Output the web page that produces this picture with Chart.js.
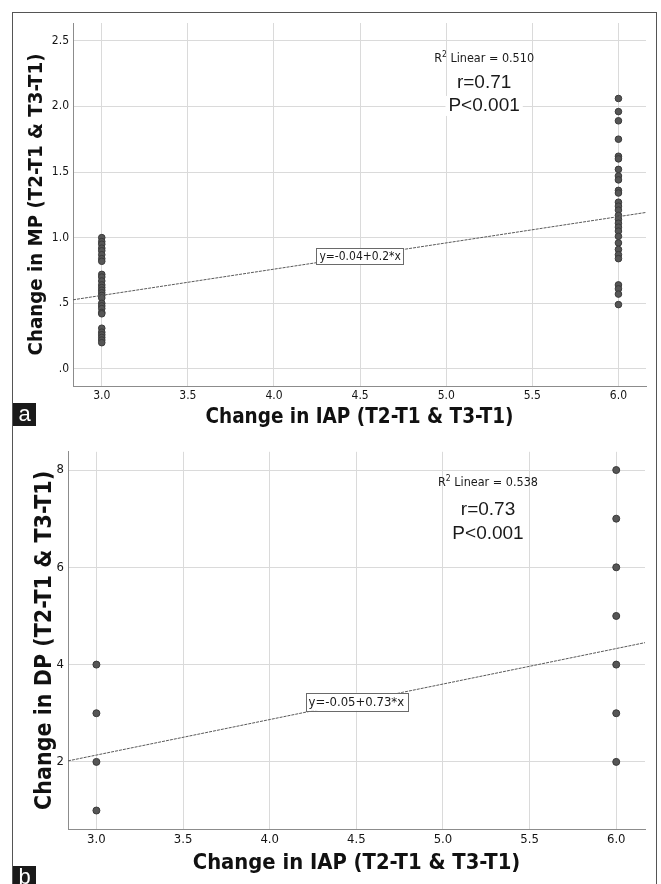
<!DOCTYPE html>
<html><head><meta charset="utf-8">
<script src="https://cdn.jsdelivr.net/npm/chart.js@4.4.1/dist/chart.umd.min.js"></script>
<style>
html,body{margin:0;padding:0;background:#fff;width:661px;height:884px;overflow:hidden;}
#frame{position:absolute;left:12px;top:12px;width:645px;height:900px;border:1.5px solid #555;border-bottom:none;box-sizing:border-box;}
.wrap{position:absolute;left:0;width:661px;}
#wa{top:0;height:440px;} #wb{top:440px;height:444px;}
canvas{display:block;}
.tag{position:absolute;left:13px;width:23px;height:23px;background:#1a1a1a;color:#fff;font:22px 'Liberation Sans',Arial,sans-serif;text-align:center;line-height:22px;}
</style></head><body>
<div id="frame"></div>
<div class="wrap" id="wa"><canvas id="ca" width="661" height="440"></canvas></div>
<div class="wrap" id="wb"><canvas id="cb" width="661" height="444"></canvas></div>
<div class="tag" style="top:403px">a</div>
<div class="tag" style="top:866px">b</div>
<script>
// ---- data ----
const xTicks = [3.0, 3.5, 4.0, 4.5, 5.0, 5.5, 6.0];
const xTickLabels = ['3.0', '3.5', '4.0', '4.5', '5.0', '5.5', '6.0'];

// Panel a: change in MP
const mpAtIap3 = [1.00, 0.97, 0.95, 0.92, 0.90, 0.87, 0.84, 0.82, 0.72, 0.70, 0.67, 0.64, 0.62, 0.60, 0.58, 0.56, 0.54, 0.50, 0.48, 0.46, 0.43, 0.42, 0.31, 0.28, 0.26, 0.24, 0.22, 0.20];
const mpAtIap6 = [2.06, 1.96, 1.89, 1.75, 1.62, 1.60, 1.52, 1.47, 1.44, 1.36, 1.34, 1.27, 1.24, 1.21, 1.17, 1.14, 1.11, 1.08, 1.05, 1.01, 0.96, 0.91, 0.87, 0.84, 0.64, 0.61, 0.57, 0.49];
const yTicksMP = [0, 0.5, 1.0, 1.5, 2.0, 2.5];
const yTickLabelsMP = ['.0', '.5', '1.0', '1.5', '2.0', '2.5'];
const fitMP = [-0.04, 0.2];          // intercept, slope
const statsMP = ['0.510', 'r=0.71', 'P<0.001'];
const eqMP = 'y=-0.04+0.2*x';

// Panel b: change in DP
const dpAtIap3 = [4, 3, 2, 1];
const dpAtIap6 = [8, 7, 6, 5, 4, 3, 2];
const yTicksDP = [2, 4, 6, 8];
const yTickLabelsDP = ['2', '4', '6', '8'];
const fitDP = [-0.05, 0.73];
const statsDP = ['0.538', 'r=0.73', 'P<0.001'];
const eqDP = 'y=-0.05+0.73*x';

const xTitle = 'Change in IAP (T2-T1 & T3-T1)';
const yTitleMP = 'Change in MP (T2-T1 & T3-T1)';
const yTitleDP = 'Change in DP (T2-T1 & T3-T1)';

// ---- drawing ----
const COND = "'DejaVu Sans Condensed','DejaVu Sans',sans-serif";
const ARIAL = "'Liberation Sans',Arial,sans-serif";

const notesPlugin = {
  id: 'notes',
  afterDatasetsDraw(chart, args, o) {
    const ctx = chart.ctx, xs = chart.scales.x, ys = chart.scales.y;
    ctx.save();
    // equation box on the fit line
    const fx = o.eqAt;
    const px = xs.getPixelForValue(fx);
    const py = ys.getPixelForValue(o.fit[0] + o.fit[1] * fx);
    ctx.font = o.eqFont;
    const w = ctx.measureText(o.eq).width + 6;
    const h = o.eqH;
    ctx.fillStyle = '#fff';
    ctx.fillRect(px - w / 2, py - h / 2, w, h);
    ctx.strokeStyle = '#6a6a6a'; ctx.lineWidth = 1;
    ctx.strokeRect(Math.round(px - w / 2) + 0.5, Math.round(py - h / 2) + 0.5, Math.round(w), Math.round(h));
    ctx.fillStyle = '#1a1a1a'; ctx.textAlign = 'center'; ctx.textBaseline = 'middle';
    ctx.fillText(o.eq, px, py + 1);

    // R2 Linear text
    const cx = xs.getPixelForValue(o.noteX);
    const r2y = ys.getPixelForValue(o.noteY[0]);
    ctx.textBaseline = 'middle'; ctx.textAlign = 'left';
    ctx.font = o.r2Font;
    const rest = ' Linear = ' + o.stats[0];
    const wR = ctx.measureText('R').width;
    const wRest = ctx.measureText(rest).width;
    ctx.font = o.supFont;
    const wS = ctx.measureText('2').width;
    const total = wR + wS + wRest;
    let sx = cx - total / 2;
    ctx.fillStyle = '#1a1a1a';
    ctx.font = o.r2Font; ctx.fillText('R', sx, r2y);
    ctx.font = o.supFont; ctx.fillText('2', sx + wR, r2y - 4);
    ctx.font = o.r2Font; ctx.fillText(rest, sx + wR + wS, r2y);

    // r and P
    ctx.textAlign = 'center';
    ctx.font = o.bigFont;
    ctx.fillText(o.stats[1], cx, ys.getPixelForValue(o.noteY[1]));
    const pY = ys.getPixelForValue(o.noteY[2]);
    const pw = ctx.measureText(o.stats[2]).width + 6;
    ctx.fillStyle = '#fff';
    ctx.fillRect(cx - pw / 2, pY - 10, pw, 20);
    ctx.fillStyle = '#1a1a1a';
    ctx.fillText(o.stats[2], cx, pY);
    ctx.restore();
  }
};

function makeChart(id, cfg) {
  const line = [cfg.xMin, cfg.xMax].map(x => ({ x: x, y: cfg.fit[0] + cfg.fit[1] * x }));
  const pts = cfg.at3.map(v => ({ x: 3, y: v })).concat(cfg.at6.map(v => ({ x: 6, y: v })));
  return new Chart(document.getElementById(id), {
    type: 'scatter',
    data: {
      datasets: [
        { type: 'line', data: line, borderColor: '#5a5a5a', borderWidth: 1, borderDash: [3, 1], pointRadius: 0, fill: false },
        { data: pts, pointRadius: cfg.pr, pointBackgroundColor: '#565656', pointBorderColor: '#3a3a3a', pointBorderWidth: 1 }
      ]
    },
    options: {
      responsive: false, animation: false, devicePixelRatio: 1,
      layout: { padding: cfg.pad },
      plugins: { legend: { display: false }, tooltip: { enabled: false }, notes: cfg.notes },
      scales: {
        x: {
          type: 'linear', min: cfg.xMin, max: cfg.xMax,
          afterBuildTicks: s => { s.ticks = xTicks.map(v => ({ value: v })); },
          afterFit: s => { s.height = cfg.xH; },
          ticks: { callback: (v, i) => xTickLabels[i], font: { family: COND, size: cfg.tickSize }, color: '#141414', padding: 3, maxRotation: 0, autoSkip: false },
          grid: { color: '#dadada', lineWidth: 1, drawTicks: false },
          border: { color: '#8c8c8c', width: 1 },
          title: { display: true, text: xTitle, font: { family: COND, size: cfg.titleSize, weight: 'bold' }, color: '#111', padding: { top: 0, bottom: cfg.xTitlePad } }
        },
        y: {
          type: 'linear', min: cfg.yMin, max: cfg.yMax,
          afterBuildTicks: s => { s.ticks = cfg.yTicks.map(v => ({ value: v })); },
          afterFit: s => { s.width = cfg.yW; },
          ticks: { callback: (v, i) => cfg.yLabels[i], font: { family: COND, size: cfg.tickSize }, color: '#141414', padding: 4 },
          grid: { color: '#dadada', lineWidth: 1, drawTicks: false },
          border: { color: '#8c8c8c', width: 1 },
          title: { display: true, text: cfg.yTitle, font: { family: COND, size: cfg.yTitleSize, weight: 'bold' }, color: '#111', padding: { top: cfg.yTitlePad, bottom: 0 } }
        }
      }
    },
    plugins: [notesPlugin]
  });
}

makeChart('ca', {
  at3: mpAtIap3, at6: mpAtIap6, fit: fitMP, yTicks: yTicksMP, yLabels: yTickLabelsMP, yTitle: yTitleMP,
  xMin: 2.833, xMax: 6.16, yMin: -0.13, yMax: 2.635,
  pad: { left: 0, top: 23, right: 15, bottom: 0 }, yW: 73, xH: 54,
  tickSize: 12, titleSize: 20.5, yTitleSize: 20.3, xTitlePad: 10, yTitlePad: 25, pr: 3.3,
  notes: { eq: eqMP, eqAt: 4.5, fit: fitMP, eqFont: '12px ' + COND, eqH: 16, noteX: 5.22, noteY: [2.363, 2.18, 2.003], stats: statsMP,
           r2Font: '12.5px ' + COND, supFont: '8.5px ' + COND, bigFont: '19px ' + ARIAL }
});

makeChart('cb', {
  at3: dpAtIap3, at6: dpAtIap6, fit: fitDP, yTicks: yTicksDP, yLabels: yTickLabelsDP, yTitle: yTitleDP,
  xMin: 2.836, xMax: 6.166, yMin: 0.62, yMax: 8.375,
  pad: { left: 0, top: 3, right: 16, bottom: 0 }, yW: 68, xH: 55,
  tickSize: 13, titleSize: 21.8, yTitleSize: 23, xTitlePad: 8, yTitlePad: 31, pr: 3.5,
  notes: { eq: eqDP, eqAt: 4.5, fit: fitDP, eqFont: '13px ' + COND, eqH: 18, noteX: 5.26, noteY: [7.733, 7.176, 6.69], stats: statsDP,
           r2Font: '12.5px ' + COND, supFont: '8.5px ' + COND, bigFont: '19px ' + ARIAL }
});
</script>
</body></html>
